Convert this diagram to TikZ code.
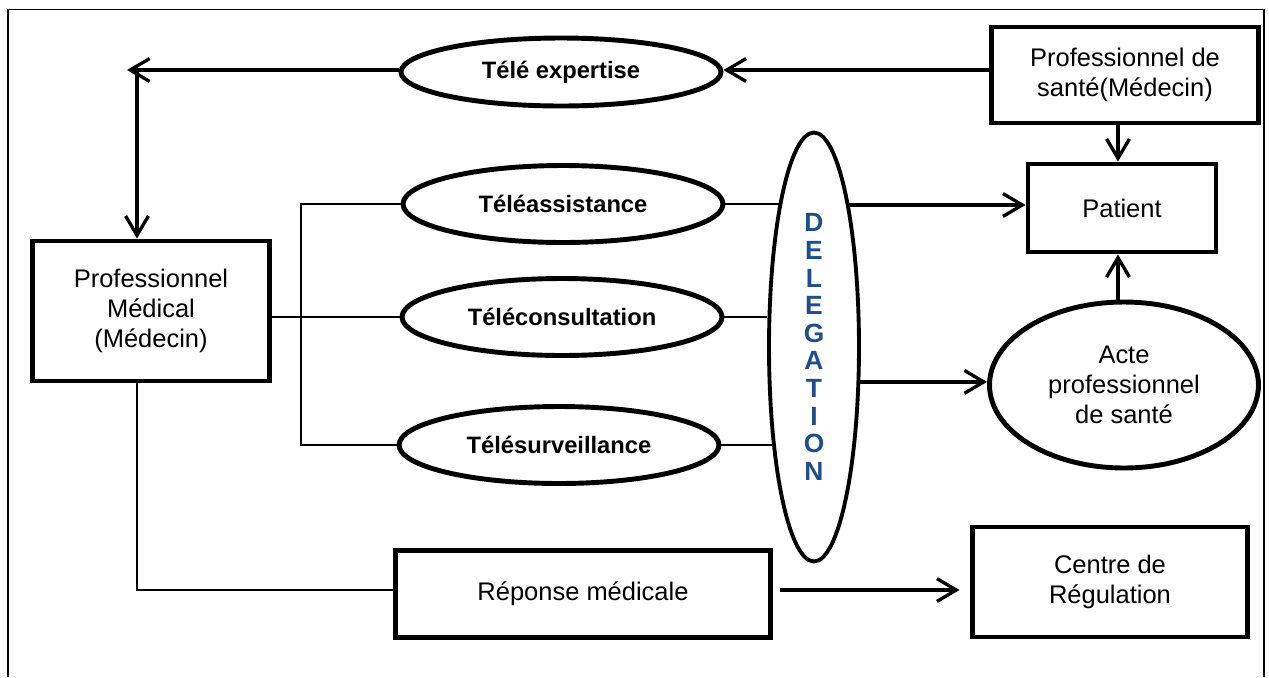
\documentclass[tikz,border=0pt]{standalone}
\usepackage{fontspec}
\setmainfont{Liberation Sans}
\usepackage{tikz}
\usetikzlibrary{positioning, shapes.geometric, arrows.meta, calc}
\definecolor{delegblue}{RGB}{31,78,140}

\begin{document}
\begin{tikzpicture}[x=0.02cm, y=-0.02cm,
    boite/.style={draw, line width=2.8pt, rectangle, inner sep=0pt, align=center,
          font=\fontsize{14.5}{17}\selectfont},
    ovale/.style={draw, line width=2.8pt, ellipse, inner sep=0pt, align=center,
          minimum width=6.4cm, minimum height=1.54cm,
          font=\fontsize{13.5}{15}\selectfont\bfseries},
    fleche/.style={line width=1.9pt, -{Straight Barb[length=11pt, width=13pt]}},
    lien/.style={line width=0.9pt}]
    \useasboundingbox (0,0) rectangle (1269,677);
    \draw[line width=1.1pt] (8,677) -- (8,9.5) -- (1264,9.5) -- (1264,677);

    % noeuds
    \node[ovale, minimum height=1.36cm] (expertise) at (561,72) {Télé expertise};
    \node[ovale] (assist) at (563,204) {Téléassistance};
    \node[ovale] (consult) at (562,317) {Téléconsultation};
    \node[ovale] (surveil) at (559,445) {Télésurveillance};
    \node[draw, line width=2.2pt, ellipse, inner sep=0pt, minimum width=1.8cm,
          minimum height=8.58cm, align=center, text=delegblue,
          font=\fontsize{15}{15.7}\selectfont\bfseries]
          (deleg) at (814,347) {D\\E\\L\\E\\G\\A\\T\\I\\O\\N};
    \node[boite, minimum width=4.74cm, minimum height=2.8cm] (profmed) at (151,311)
          {Professionnel\\Médical\\(Médecin)};
    \node[boite, minimum width=5.34cm, minimum height=1.92cm] (profsante) at (1125,75)
          {Professionnel de\\santé(Médecin)};
    \node[boite, minimum width=3.76cm, minimum height=1.76cm] (patient) at (1122,208) {Patient};
    \node[draw, line width=2.8pt, ellipse, inner sep=0pt, minimum width=5.38cm,
          minimum height=3.32cm, align=center, font=\fontsize{14.5}{17}\selectfont]
          (acte) at (1124,385) {Acte\\professionnel\\de santé};
    \node[boite, minimum width=7.5cm, minimum height=1.74cm] (reponse) at (583,594)
          {Réponse médicale};
    \node[boite, minimum width=5.5cm, minimum height=2.2cm] (centre) at (1110,582)
          {Centre de\\Régulation};

    \coordinate (bout) at (127,70);
    \coordinate (coude) at (137,70);
    \coordinate (br) at (301,0);

    % connecteurs
    \draw[fleche] (profsante.west |- bout) -- (expertise.east |- bout);
    \draw[fleche] (expertise.west |- bout) -- (bout);
    \draw[fleche] (coude) -- (coude |- profmed.north);
    \draw[fleche] (profsante.south -| 1118,0) -- (patient.north -| 1118,0);
    \draw[fleche] (acte.north -| 1118,0) -- (patient.south -| 1118,0);
    \draw[fleche] (deleg.76) -- (deleg.76 -| patient.west);
    \draw[fleche] (deleg.-37) -- (deleg.-37 -| acte.west);

    \draw[lien] (profmed.east |- consult) -- (consult.west);
    \draw[lien] (assist.west) -- (assist.west -| br) -- (surveil.west -| br) -- (surveil.west);
    \draw[lien] (assist.east) -- (assist.east -| deleg.103);
    \draw[lien] (consult.east) -- (consult.east -| deleg.west);
    \draw[lien] (surveil.east) -- (surveil.east -| deleg.248);
    \draw[lien] (coude |- profmed.south) -- (coude |- 0,590) -- (reponse.west |- 0,590);

    \draw[fleche, shorten <=4pt, shorten >=6pt] (reponse.east |- 0,590) -- (centre.west |- 0,590);
  \end{tikzpicture}
\end{document}
